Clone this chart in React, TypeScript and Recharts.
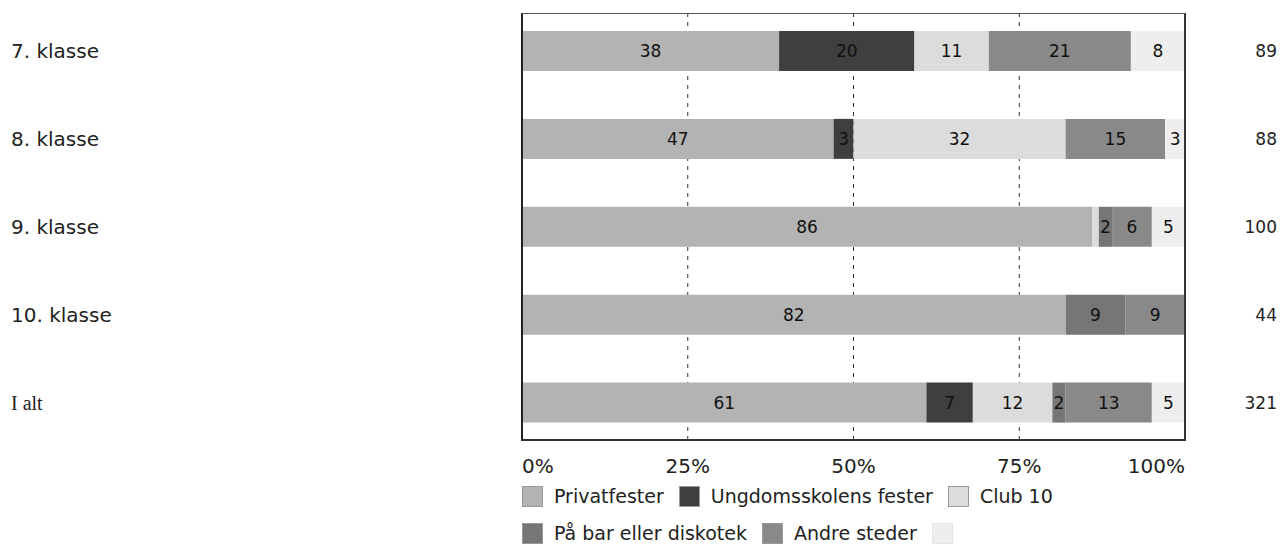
import React from "react";
import { BarChart, Bar, XAxis, YAxis, CartesianGrid, Legend, LabelList } from "recharts";

const categories = ["7. klasse", "8. klasse", "9. klasse", "10. klasse", "I alt"];
const privatfester = [38, 47, 86, 82, 61];
const ungdomsskolensFester = [20, 3, 0, 0, 7];
const club10 = [11, 32, 1, 0, 12];
const paaBar = [0, 0, 2, 9, 2];
const andreSteder = [21, 15, 6, 9, 13];
const andet = [8, 3, 5, 0, 5];
const totals = [89, 88, 100, 44, 321];
const xTicks = [0, 0.25, 0.5, 0.75, 1];

const FONT = "'DejaVu Sans', Verdana, sans-serif";

const series = [
  { key: "privat", name: "Privatfester", values: privatfester, fill: "#b3b3b3" },
  { key: "ungdom", name: "Ungdomsskolens fester", values: ungdomsskolensFester, fill: "#3f3f3f" },
  { key: "club", name: "Club 10", values: club10, fill: "#dcdcdc" },
  { key: "bar", name: "På bar eller diskotek", values: paaBar, fill: "#767676" },
  { key: "andre", name: "Andre steder", values: andreSteder, fill: "#898989" },
  { key: "andet", name: "", values: andet, fill: "#eeeeee" },
];

const data = categories.map((name, i) => {
  const row: Record<string, any> = { name };
  series.forEach((s) => {
    row[s.key] = s.values[i];
  });
  return row;
});

// value comes from the LabelList dataKey (raw number, not the stacked share)
const segmentLabel = (props: any) => {
  const box = props.viewBox && props.viewBox.width !== undefined ? props.viewBox : props;
  const { x, y, width, height } = box;
  const v = Number(props.value);
  if (!v || v <= 1) return null;
  return (
    <text
      x={x + width / 2}
      y={y + height / 2}
      dy="0.36em"
      textAnchor="middle"
      fontSize={17}
      fontFamily={FONT}
      fill="#111"
    >
      {v}
    </text>
  );
};

const CategoryTick = (props: any) => {
  const { y, payload } = props;
  const serif = payload.value === "I alt";
  return (
    <text
      x={11}
      y={y}
      dy="0.36em"
      fontSize={20}
      fontFamily={serif ? "'Liberation Serif', serif" : FONT}
      fill="#222"
    >
      {payload.value}
    </text>
  );
};

const TotalTick = (props: any) => {
  const { x, y, index } = props;
  return (
    <text x={x + 92} y={y} dy="0.36em" textAnchor="end" fontSize={17} fontFamily={FONT} fill="#222">
      {totals[index]}
    </text>
  );
};

const PercentTick = (props: any) => {
  const { x, y, payload } = props;
  const anchor = payload.value === 0 ? "start" : payload.value === 1 ? "end" : "middle";
  return (
    <text x={x} y={y} dy={14} textAnchor={anchor} fontSize={20} fontFamily={FONT} fill="#222">
      {`${Math.round(payload.value * 100)}%`}
    </text>
  );
};

const renderLegend = () => (
  <div
    style={{
      display: "flex",
      flexWrap: "wrap",
      rowGap: 15,
      fontFamily: FONT,
      fontSize: 19,
      color: "#222",
    }}
  >
    {series.map((s) => (
      <div key={s.key} style={{ display: "flex", alignItems: "center", marginRight: 15, height: 22 }}>
        <span
          style={{
            display: "inline-block",
            width: 21,
            height: 21,
            background: s.fill,
            border: s.name ? "1px solid #999" : "1px dotted #ddd",
            boxSizing: "border-box",
            marginRight: s.name ? 11 : 0,
          }}
        />
        {s.name}
      </div>
    ))}
  </div>
);

export default function App() {
  return (
    <div style={{ position: "absolute", left: 0, top: 0, width: 1280, height: 546, background: "#fff" }}>
      <BarChart
        width={1280}
        height={546}
        data={data}
        layout="vertical"
        stackOffset="expand"
        barSize={40}
        margin={{ top: 7, right: 0, bottom: 59.5, left: 0 }}
      >
        <CartesianGrid horizontal={false} stroke="#333" strokeDasharray="4 5" y={13} height={427} />
        <XAxis
          type="number"
          domain={[0, 1]}
          ticks={xTicks}
          axisLine={false}
          tickLine={false}
          tickSize={0}
          tickMargin={12}
          height={40}
          interval={0}
          tick={<PercentTick />}
        />
        <YAxis
          type="category"
          dataKey="name"
          width={522}
          axisLine={false}
          tickLine={false}
          interval={0}
          tick={<CategoryTick />}
        />
        <YAxis
          yAxisId="right"
          orientation="right"
          type="category"
          dataKey="name"
          width={95}
          axisLine={false}
          tickLine={false}
          tickSize={0}
          tickMargin={0}
          interval={0}
          tick={<TotalTick />}
        />
        {series.map((s) => (
          <Bar key={s.key} dataKey={s.key} name={s.name} stackId="a" fill={s.fill} isAnimationActive={false}>
            <LabelList dataKey={s.key} content={segmentLabel} />
          </Bar>
        ))}
        <Legend
          layout="vertical"
          align="center"
          verticalAlign="middle"
          wrapperStyle={{ left: 522, top: 485, width: 660, height: "auto" }}
          content={renderLegend}
        />
      </BarChart>
      <div
        style={{
          position: "absolute",
          left: 521,
          top: 13,
          width: 665,
          height: 428,
          borderTop: "1px solid #555",
          borderRight: "2px solid #333",
          borderBottom: "2px solid #333",
          borderLeft: "2px solid #222",
          boxSizing: "border-box",
          pointerEvents: "none",
        }}
      />
    </div>
  );
}
